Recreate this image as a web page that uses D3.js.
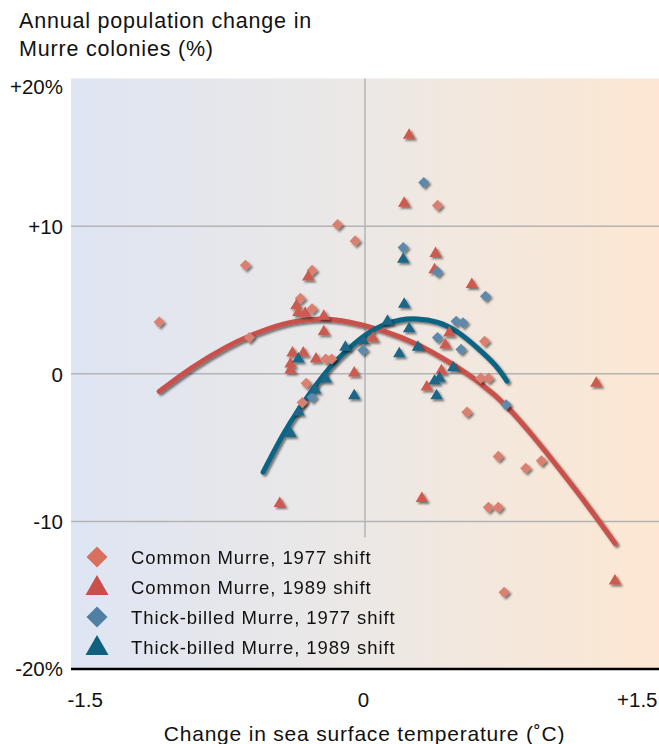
<!DOCTYPE html>
<html>
<head>
<meta charset="utf-8">
<script src="https://cdn.jsdelivr.net/npm/d3@7"></script>
<style>
  html, body { margin: 0; padding: 0; background: #fff; }
  svg { display: block; }
  text { font-family: "Liberation Sans", Arial, Helvetica, sans-serif; fill: #111; }
</style>
</head>
<body>
<svg id="chart" width="659" height="744"></svg>
<script>
// ---------- DATA ----------
const titleLines = ["Annual population change in", "Murre colonies (%)"];
const xAxisTitle = "Change in sea surface temperature (\u02DAC)";
const xTickValues = [-1.5, 0, 1.5];
const xTickLabels = ["-1.5", "0", "+1.5"];
const yTickValues = [20, 10, 0, -10, -20];
const yTickLabels = ["+20%", "+10", "0", "-10", "-20%"];
const gridY = [10, 0, -10];

const seriesNames = ["Common Murre, 1977 shift", "Common Murre, 1989 shift",
                     "Thick-billed Murre, 1977 shift", "Thick-billed Murre, 1989 shift"];

// Common Murre, 1977 shift (diamonds) [sst change, % change]
const common1977 = [
  [-1.05, 3.5], [-0.61, 7.35], [-0.59, 2.45], [-0.14, 10.1], [-0.05, 9.0],
  [-0.27, 7.0], [-0.33, 5.1], [-0.27, 4.4], [-0.20, 1.0], [-0.17, 1.0],
  [-0.30, -0.65], [-0.32, -1.95], [0.37, 11.4], [0.61, 2.2], [0.59, -0.3],
  [0.63, -0.3], [0.52, -2.6], [0.68, -5.6], [0.82, -6.4], [0.90, -5.9],
  [0.63, -9.05], [0.68, -9.05], [0.71, -14.8]
];
// Common Murre, 1989 shift (triangles)
const common1989 = [
  [0.225, 16.2], [0.20, 11.6], [0.36, 8.2], [0.355, 7.1], [0.545, 6.1],
  [0.43, 2.8], [0.41, 2.0], [0.04, 2.45], [0.39, 0.25], [0.315, -0.85],
  [1.18, -0.6], [0.29, -8.4], [1.275, -14.0], [-0.055, 0.1], [-0.29, 6.6],
  [-0.35, 4.65], [-0.34, 4.2], [-0.305, 4.15], [-0.21, 3.95], [-0.21, 2.9],
  [-0.37, 1.45], [-0.315, 1.45], [-0.38, 0.7], [-0.38, 0.3], [-0.25, 1.05],
  [-0.435, -8.75]
];
// Thick-billed Murre, 1977 shift (diamonds)
const thick1977 = [
  [0.30, 12.95], [0.195, 8.55], [0.37, 6.9], [0.615, 5.25], [0.465, 3.55],
  [0.50, 3.45], [0.37, 2.45], [0.49, 1.65], [-0.01, 1.6], [-0.27, -1.6],
  [0.72, -2.1]
];
// Thick-billed Murre, 1989 shift (triangles)
const thick1989 = [
  [0.195, 7.8], [0.20, 4.75], [0.115, 3.6], [0.225, 3.1], [-0.01, 2.3],
  [-0.10, 1.85], [0.27, 1.85], [0.175, 1.4], [0.45, 0.45], [0.38, -0.25],
  [0.355, -0.45], [0.365, -1.45], [-0.055, -1.45], [-0.34, 1.05], [-0.20, -0.3],
  [-0.255, -1.05], [-0.34, -2.55], [-0.38, -4.0]
];
// Fitted curves
const commonCurve = [
  [-1.05, -1.2], [-0.88, 0.5], [-0.70, 1.9], [-0.587, 2.6], [-0.418, 3.45],
  [-0.245, 3.8], [-0.077, 3.55], [0.092, 2.95], [0.265, 2.07], [0.434, 0.78],
  [0.60, -0.7], [0.72, -2.1], [0.857, -4.2], [0.995, -6.5], [1.13, -8.8],
  [1.276, -11.5]
];
const thickCurve = [
  [-0.52, -6.67], [-0.418, -4.03], [-0.332, -2.27], [-0.245, -0.64], [-0.163, 0.71],
  [-0.077, 1.8], [0.01, 2.74], [0.092, 3.35], [0.18, 3.69], [0.265, 3.76],
  [0.367, 3.56], [0.47, 2.95], [0.587, 1.6], [0.67, 0.58], [0.724, -0.5]
];

// ---------- LAYOUT / STYLE ----------
const W = 659, H = 744;
const plot = { left: 71, right: 659, top: 78.5, bottom: 669 };
const colors = {
  c77: "#d9806f", c89: "#cc5a4f", t77: "#5f89ab", t89: "#1c6687",
  cCurve: "#c9514b", tCurve: "#0d6383", grid: "#b4b4b4"
};

const svg = d3.select("#chart");
const x = d3.scaleLinear().domain([-1.5, 1.5]).range([plot.left, plot.right]);
const y = d3.scaleLinear().domain([-20, 20]).range([plot.bottom, plot.top]);

const defs = svg.append("defs");
const grad = defs.append("linearGradient").attr("id", "bg")
  .attr("x1", "0%").attr("x2", "100%").attr("y1", "0%").attr("y2", "0%");
grad.append("stop").attr("offset", "0%").attr("stop-color", "#dee5f3");
grad.append("stop").attr("offset", "50%").attr("stop-color", "#ece8e5");
grad.append("stop").attr("offset", "100%").attr("stop-color", "#fde7d2");

const shadow = defs.append("filter").attr("id", "shadow")
  .attr("x", "-50%").attr("y", "-50%").attr("width", "200%").attr("height", "200%");
shadow.append("feDropShadow").attr("dx", 2).attr("dy", 2).attr("stdDeviation", 1.1)
  .attr("flood-color", "#000").attr("flood-opacity", 0.5);

// background
svg.append("rect")
  .attr("x", plot.left).attr("y", plot.top)
  .attr("width", plot.right - plot.left).attr("height", plot.bottom - plot.top)
  .attr("fill", "url(#bg)");

// gridlines
svg.append("g").selectAll("line").data(gridY).join("line")
  .attr("x1", plot.left).attr("x2", plot.right)
  .attr("y1", d => y(d)).attr("y2", d => y(d))
  .attr("stroke", colors.grid).attr("stroke-width", 1.5);
svg.append("line")
  .attr("x1", x(0)).attr("x2", x(0))
  .attr("y1", plot.top).attr("y2", y(-11.1))
  .attr("stroke", colors.grid).attr("stroke-width", 1.5);

// bottom axis line
svg.append("line")
  .attr("x1", plot.left).attr("x2", plot.right)
  .attr("y1", plot.bottom).attr("y2", plot.bottom)
  .attr("stroke", "#000").attr("stroke-width", 2.5);

// y axis labels
const yAxis = d3.axisLeft(y).tickValues(yTickValues)
  .tickFormat((d, i) => yTickLabels[i]).tickSize(0).tickPadding(0);
const gy = svg.append("g").attr("transform", `translate(${plot.left - 8},0)`).call(yAxis);
gy.select(".domain").remove();
gy.selectAll("text")
  .style("font-family", '"Liberation Sans", Arial, sans-serif')
  .style("font-size", "20.5px").attr("fill", "#111")
  .attr("dy", (d) => d === 20 ? "0.71em" : (d === -20 ? "0.3em" : "0.36em"));

// x axis labels
const xAxis = d3.axisBottom(x).tickValues(xTickValues)
  .tickFormat((d, i) => xTickLabels[i]).tickSize(0).tickPadding(0);
const gx = svg.append("g").attr("transform", `translate(0,${plot.bottom + 23})`).call(xAxis);
gx.select(".domain").remove();
gx.selectAll("text")
  .style("font-family", '"Liberation Sans", Arial, sans-serif')
  .style("font-size", "20.5px").attr("fill", "#111")
  .attr("text-anchor", (d) => d < 0 ? "start" : (d > 0 ? "end" : "middle"))
  .attr("dx", (d) => d < 0 ? -4 : -2)
  .attr("dy", "0.72em");

// titles
svg.append("g").selectAll("text").data(titleLines).join("text")
  .attr("x", 19).attr("y", (d, i) => 28 + i * 28)
  .style("font-size", "21.5px").style("letter-spacing", "0.8px")
  .text(d => d);
svg.append("text")
  .attr("x", (162 + 567) / 2).attr("y", 741).attr("text-anchor", "middle")
  .style("font-size", "21px").style("letter-spacing", "0.8px")
  .text(xAxisTitle);

// curves
const line = d3.line().x(d => x(d[0])).y(d => y(d[1])).curve(d3.curveBasis);
const curveG = svg.append("g").attr("filter", "url(#shadow)");
curveG.append("path").datum(commonCurve).attr("d", line)
  .attr("fill", "none").attr("stroke", colors.cCurve).attr("stroke-width", 5)
  .attr("stroke-linecap", "round");
curveG.append("path").datum(thickCurve).attr("d", line)
  .attr("fill", "none").attr("stroke", colors.tCurve).attr("stroke-width", 5)
  .attr("stroke-linecap", "round");

// marker shapes
function diamond(r) { return `M0,${-r}L${r},0L0,${r}L${-r},0Z`; }
function triangle(w, h) { return `M0,${-h * 0.6}L${w},${h * 0.4}L${-w},${h * 0.4}Z`; }

const ptsG = svg.append("g").attr("filter", "url(#shadow)");
function drawPts(data, path, color) {
  ptsG.append("g").selectAll("path").data(data).join("path")
    .attr("transform", d => `translate(${x(d[0])},${y(d[1])})`)
    .attr("d", path).attr("fill", color);
}
drawPts(common1977, diamond(5.6), colors.c77);
drawPts(common1989, triangle(6.2, 10.5), colors.c89);
drawPts(thick1977, diamond(5.6), colors.t77);
drawPts(thick1989, triangle(6.2, 10.5), colors.t89);

// legend
const legendItems = [
  { name: seriesNames[0], path: diamond(10.5), color: "#d7705f" },
  { name: seriesNames[1], path: triangle(11.5, 20), color: "#c9504a" },
  { name: seriesNames[2], path: diamond(10.5), color: "#4f7fa2" },
  { name: seriesNames[3], path: triangle(11.5, 20), color: "#10617f" }
];
const lg = svg.append("g");
const rows = lg.selectAll("g").data(legendItems).join("g")
  .attr("transform", (d, i) => `translate(0,${564 + i * 30})`);
rows.append("path").attr("d", d => d.path).attr("fill", d => d.color)
  .attr("transform", "translate(97,-7)");
rows.append("text").attr("x", 131).attr("y", 0)
  .style("font-size", "18.5px").style("letter-spacing", "0.9px")
  .text(d => d.name);
</script>
</body>
</html>
